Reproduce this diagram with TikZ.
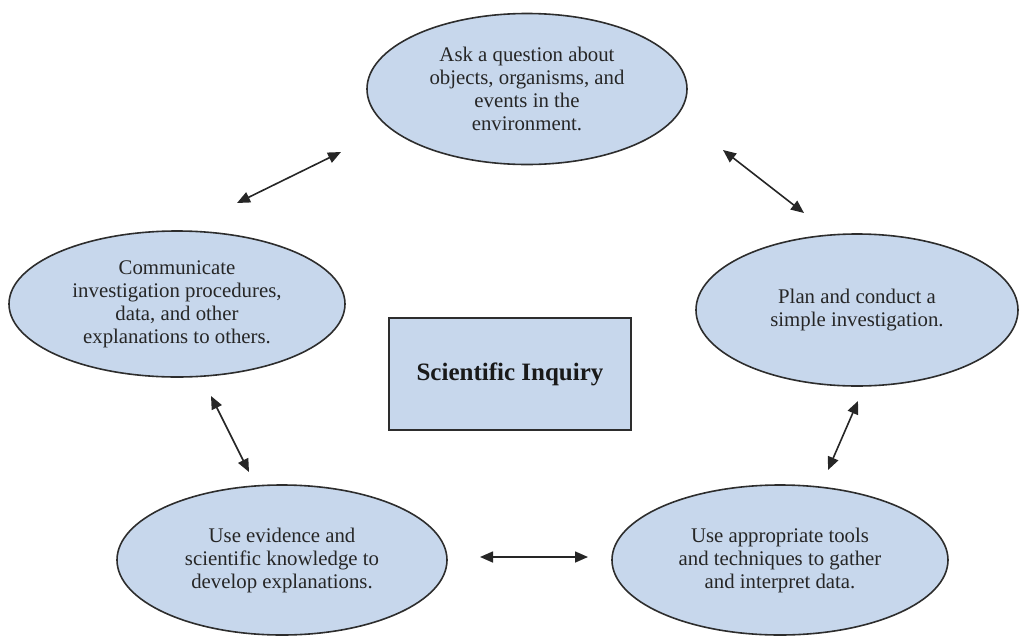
\documentclass[tikz,border=0pt]{standalone}
\usepackage{fontspec}
\setmainfont{Liberation Serif}
\usetikzlibrary{shapes.geometric,arrows.meta}
\definecolor{ellfill}{RGB}{199,215,236}
\definecolor{ellline}{RGB}{45,45,45}
\tikzset{
  bubble/.style={ellipse, draw=ellline, line width=1.6pt, fill=ellfill, inner sep=0pt,
    minimum width=#1, align=center, font=\fontsize{20.8}{23}\selectfont, text=black!85},
  titlebox/.style={rectangle, draw=ellline, line width=1.6pt, fill=ellfill,
    minimum width=242pt, minimum height=112pt, font=\bfseries\fontsize{25}{28}\selectfont, text=black!90},
  link/.style={{Triangle[length=13pt,width=11pt]}-{Triangle[length=13pt,width=11pt]}, line width=1.6pt, draw=black!85}
}
\begin{document}
\begin{tikzpicture}[x=1pt,y=-1pt]
\useasboundingbox (0,0) rectangle (1020,635);
\node[bubble=320pt, minimum height=151pt] (ask) at (527,89) {Ask a question about\\objects, organisms, and\\events in the\\environment.};
\node[bubble=336pt, minimum height=146pt] (comm) at (177,304) {Communicate\\investigation procedures,\\data, and other\\explanations to others.};
\node[bubble=322pt, minimum height=152pt] (plan) at (857,310) {Plan and conduct a\\simple investigation.};
\node[bubble=330pt, minimum height=150pt] (evid) at (282,560) {Use evidence and\\scientific knowledge to\\develop explanations.};
\node[bubble=336pt, minimum height=150pt] (tools) at (780,560) {Use appropriate tools\\and techniques to gather\\and interpret data.};
\node[titlebox] (title) at (510,374) {Scientific Inquiry};
\coordinate (a1) at (237,203); \coordinate (b1) at (341,152);
\coordinate (a2) at (723,150); \coordinate (b2) at (804,213);
\coordinate (a3) at (211,396); \coordinate (b3) at (249,472);
\coordinate (a4) at (480,557); \coordinate (b4) at (588,557);
\coordinate (a5) at (828,470); \coordinate (b5) at (858,401);
\draw[link] (a1) -- (b1);
\draw[link] (a2) -- (b2);
\draw[link] (a3) -- (b3);
\draw[link] (a4) -- (b4);
\draw[link] (a5) -- (b5);
\end{tikzpicture}
\end{document}
